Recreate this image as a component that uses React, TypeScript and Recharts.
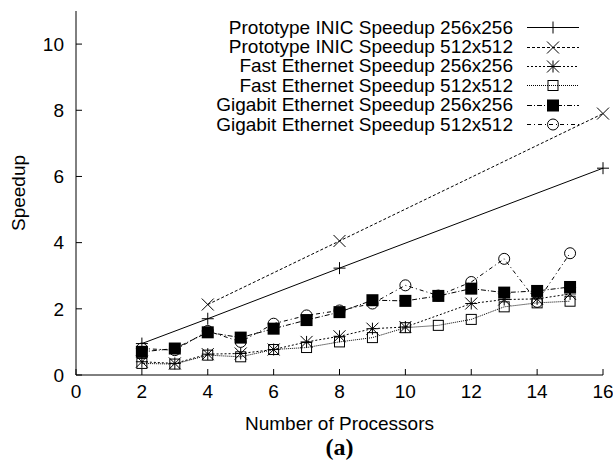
import React from 'react';
import { LineChart, Line, XAxis, YAxis, Legend } from 'recharts';

const processors = [2, 3, 4, 5, 6, 7, 8, 9, 10, 11, 12, 13, 14, 15, 16];
const inic256 = [0.95, null, 1.7, null, null, null, 3.23, null, null, null, null, null, null, null, 6.25];
const inic512 = [null, null, 2.13, null, null, null, 4.05, null, null, null, null, null, null, null, 7.9];
const fast256 = [0.4, 0.35, 0.63, 0.65, 0.77, 1.0, 1.17, 1.4, 1.45, null, 2.16, 2.28, 2.3, 2.45, null];
const fast512 = [0.35, 0.33, 0.6, 0.55, 0.77, 0.83, 1.0, 1.13, 1.43, 1.5, 1.68, 2.06, 2.18, 2.23, null];
const giga256 = [0.7, 0.8, 1.29, 1.13, 1.4, 1.66, 1.9, 2.26, 2.24, 2.39, 2.61, 2.49, 2.54, 2.66, null];
const giga512 = [0.8, 0.75, 1.33, 1.0, 1.55, 1.8, 1.95, 2.16, 2.71, 2.4, 2.81, 3.51, 2.21, 3.68, null];

const xTicks = [0, 2, 4, 6, 8, 10, 12, 14, 16];
const yTicks = [0, 2, 4, 6, 8, 10];

const data = processors.map((p, i) => ({
  p,
  inic256: inic256[i],
  inic512: inic512[i],
  fast256: fast256[i],
  fast512: fast512[i],
  giga256: giga256[i],
  giga512: giga512[i],
}));

type Kind = 'plus' | 'cross' | 'star' | 'square' | 'filled' | 'circle';

const series: { key: string; name: string; kind: Kind; dash?: string }[] = [
  { key: 'inic256', name: 'Prototype INIC Speedup 256x256', kind: 'plus' },
  { key: 'inic512', name: 'Prototype INIC Speedup 512x512', kind: 'cross', dash: '3 2' },
  { key: 'fast256', name: 'Fast Ethernet Speedup 256x256', kind: 'star', dash: '2 2' },
  { key: 'fast512', name: 'Fast Ethernet Speedup 512x512', kind: 'square', dash: '1 1' },
  { key: 'giga256', name: 'Gigabit Ethernet Speedup 256x256', kind: 'filled', dash: '5 2 1 2' },
  { key: 'giga512', name: 'Gigabit Ethernet Speedup 512x512', kind: 'circle', dash: '4 3 1 3' },
];

const font = '"Liberation Sans", Arial, sans-serif';
const fs = 19;

function marker(kind: Kind, cx: number, cy: number, key?: string) {
  const s = 6;
  switch (kind) {
    case 'plus':
      return <path key={key} d={`M${cx - s},${cy}h${2 * s}M${cx},${cy - s}v${2 * s}`} stroke="#000" fill="none" />;
    case 'cross':
      return <path key={key} d={`M${cx - s},${cy - s}l${2 * s},${2 * s}M${cx - s},${cy + s}l${2 * s},${-2 * s}`} stroke="#000" fill="none" />;
    case 'star':
      return (
        <path
          key={key}
          d={`M${cx - s},${cy}h${2 * s}M${cx},${cy - s}v${2 * s}M${cx - s},${cy - s}l${2 * s},${2 * s}M${cx - s},${cy + s}l${2 * s},${-2 * s}`}
          stroke="#000"
          fill="none"
        />
      );
    case 'square':
      return <rect key={key} x={cx - 5} y={cy - 5} width={10} height={10} stroke="#000" fill="none" />;
    case 'filled':
      return <rect key={key} x={cx - 6} y={cy - 6} width={12} height={12} fill="#000" />;
    default:
      return <circle key={key} cx={cx} cy={cy} r={5.5} stroke="#000" fill="none" />;
  }
}

const LegendBox = () => (
  <div style={{ fontFamily: font, fontSize: fs, color: '#000' }}>
    {series.map((s) => (
      <div key={s.key} style={{ display: 'flex', alignItems: 'center', justifyContent: 'flex-end', height: 19.4 }}>
        <span style={{ whiteSpace: 'nowrap' }}>{s.name}</span>
        <svg width={52} height={19} style={{ marginLeft: 14 }}>
          <line x1={0} y1={9.5} x2={52} y2={9.5} stroke="#000" strokeDasharray={s.dash} />
          {marker(s.kind, 26, 9.5)}
        </svg>
      </div>
    ))}
  </div>
);

export default function App() {
  return (
    <div style={{ position: 'absolute', left: 0, top: 0, width: 613, height: 467, background: '#fff' }}>
      <LineChart width={613} height={467} data={data} margin={{ top: 11, right: 10, left: 0, bottom: 0 }}>
        <XAxis
          dataKey="p"
          type="number"
          domain={[0, 16]}
          ticks={xTicks}
          height={92}
          tickSize={-6}
          tickMargin={16}
          axisLine={{ stroke: '#000' }}
          tickLine={{ stroke: '#000' }}
          tick={{ fill: '#000', fontSize: fs, fontFamily: font }}
          label={{
            content: (props: any) => {
              const vb = props.viewBox || {};
              return (
                <text x={vb.x + vb.width / 2} y={vb.y + 55} textAnchor="middle" fontSize={fs} fontFamily={font} fill="#000">
                  Number of Processors
                </text>
              );
            },
          }}
        />
        <XAxis
          xAxisId="top"
          dataKey="p"
          type="number"
          orientation="top"
          domain={[0, 16]}
          ticks={xTicks}
          height={0}
          tickSize={-6}
          tick={false}
          axisLine={{ stroke: '#000' }}
          tickLine={{ stroke: '#000' }}
        />
        <YAxis
          type="number"
          domain={[0, 11]}
          ticks={yTicks}
          width={76}
          tickSize={-6}
          tickMargin={18}
          axisLine={{ stroke: '#000' }}
          tickLine={{ stroke: '#000' }}
          tick={{ fill: '#000', fontSize: fs, fontFamily: font }}
          label={{
            content: (props: any) => {
              const vb = props.viewBox || {};
              const cx = vb.x + 18;
              const cy = vb.y + vb.height / 2;
              return (
                <text x={cx} y={cy} transform={`rotate(-90 ${cx} ${cy})`} textAnchor="middle" dominantBaseline="central" fontSize={fs} fontFamily={font} fill="#000">
                  Speedup
                </text>
              );
            },
          }}
        />
        <YAxis
          yAxisId="right"
          orientation="right"
          type="number"
          domain={[0, 11]}
          ticks={yTicks}
          width={0}
          tickSize={-6}
          tick={false}
          axisLine={{ stroke: '#000' }}
          tickLine={{ stroke: '#000' }}
        />
        <Legend
          layout="vertical"
          align="center"
          verticalAlign="middle"
          wrapperStyle={{ left: 'auto', right: 34, top: 18, width: 'auto' }}
          content={() => <LegendBox />}
        />
        {series.map((s) => (
          <Line
            key={s.key}
            dataKey={s.key}
            name={s.name}
            stroke="#000"
            strokeWidth={1}
            strokeDasharray={s.dash}
            connectNulls
            isAnimationActive={false}
            activeDot={false}
            dot={(p: any) =>
              p.cy == null || p.value == null ? <g key={`${s.key}-${p.index}`} /> : marker(s.kind, p.cx, p.cy, `${s.key}-${p.index}`)
            }
          />
        ))}
      </LineChart>
      <div
        style={{
          position: 'absolute',
          left: 0,
          width: 679,
          top: 434,
          textAlign: 'center',
          fontFamily: '"Liberation Serif", "Times New Roman", serif',
          fontWeight: 'bold',
          fontSize: 24,
        }}
      >
        (a)
      </div>
    </div>
  );
}
